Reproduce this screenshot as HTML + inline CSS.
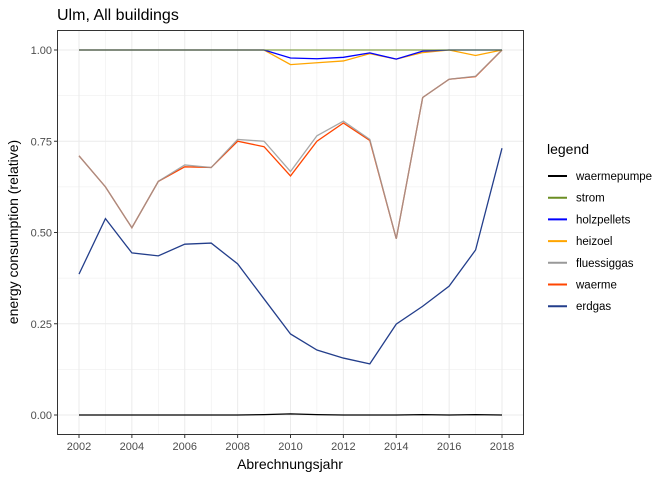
<!DOCTYPE html>
<html><head><meta charset="utf-8"><style>
body{margin:0;background:#fff;font-family:"Liberation Sans",sans-serif;}
</style></head><body>
<svg id="chart" width="672" height="480" xmlns="http://www.w3.org/2000/svg" font-family="Liberation Sans, sans-serif">
<text x="57" y="20" font-size="16" fill="#000">Ulm, All buildings</text>
<g id="grid"></g>
<g id="series"></g>
<rect x="57.5" y="30.5" width="466" height="404" fill="none" stroke="#333" stroke-width="1"/>
<g id="axes"></g>
<text x="290" y="469" font-size="14" text-anchor="middle">Abrechnungsjahr</text>
<text transform="translate(18,232) rotate(-90)" font-size="14" text-anchor="middle">energy consumption (relative)</text>
<g id="legend">
<text x="547" y="154" font-size="14">legend</text>
</g>
</svg>
<script>
const years=[2002,2003,2004,2005,2006,2007,2008,2009,2010,2011,2012,2013,2014,2015,2016,2017,2018];
const xTicks=[2002,2004,2006,2008,2010,2012,2014,2016,2018];
const yTicks=[0,0.25,0.5,0.75,1.0];
const yTickLabels=["0.00","0.25","0.50","0.75","1.00"];
const seriesNames=["waermepumpe","strom","holzpellets","heizoel","fluessiggas","waerme","erdgas"];
const seriesColors=["#000000","#6b8e23","#0000ff","#ffa500","#999999","#ff4500","#233e8b"];
const waermepumpe=[0,0,0,0,0,0,0,0.001,0.003,0.001,0,0,0,0.001,0,0.001,0];
const strom=[1,1,1,1,1,1,1,1,1,1,1,1,1,1,1,1,1];
const holzpellets=[1,1,1,1,1,1,1,1,0.978,0.976,0.98,0.992,0.975,0.997,1,1,1];
const heizoel=[1,1,1,1,1,1,1,1,0.96,0.965,0.97,0.99,0.975,0.993,1,0.985,1];
const fluessiggas=[0.71,0.625,0.513,0.64,0.685,0.678,0.755,0.75,0.667,0.765,0.805,0.755,0.483,0.87,0.92,0.928,1];
const waerme=[0.71,0.625,0.513,0.64,0.68,0.678,0.75,0.735,0.655,0.75,0.8,0.752,0.483,0.87,0.92,0.927,1];
const erdgas=[0.386,0.538,0.444,0.436,0.468,0.471,0.414,0.318,0.222,0.178,0.156,0.14,0.249,0.298,0.353,0.452,0.731];
const NS="http://www.w3.org/2000/svg";
const X=v=>79+(v-2002)*(502-79)/16;
const Y=v=>415-v*365;
function mk(tag,attrs,parent){const e=document.createElementNS(NS,tag);for(const k in attrs)e.setAttribute(k,attrs[k]);parent.appendChild(e);return e;}
const grid=document.getElementById('grid'),axes=document.getElementById('axes'),ser=document.getElementById('series'),leg=document.getElementById('legend');
for(let y=2002;y<=2018;y++){const l=mk('line',{x1:X(y),x2:X(y),y1:31,y2:434,stroke:'#ebebeb','stroke-width':y%2?0.5:1},grid);

}
for(let v=0;v<=1.0001;v+=0.125){const l=mk('line',{x1:58,x2:523,y1:Y(v),y2:Y(v),stroke:'#ebebeb','stroke-width':(Math.round(v*8)%2)?0.5:1},grid);

}
xTicks.forEach(t=>{const l=mk('line',{x1:X(t),x2:X(t),y1:435,y2:438,stroke:'#333'},axes);


const tx=mk('text',{x:X(t),y:450,'font-size':11,'text-anchor':'middle',fill:'#4d4d4d'},axes);tx.textContent=t;

});
yTicks.forEach((t,i)=>{const l=mk('line',{x1:54,x2:57,y1:Y(t),y2:Y(t),stroke:'#333'},axes);


const tx=mk('text',{x:52,y:Y(t)+4,'font-size':11,'text-anchor':'end',fill:'#4d4d4d'},axes);tx.textContent=yTickLabels[i];

});
const data={waermepumpe,strom,holzpellets,heizoel,fluessiggas,waerme,erdgas};
const opac={strom:0.8,fluessiggas:0.85};
for(let i=seriesNames.length-1;i>=0;i--){const n=seriesNames[i];
const p=mk('polyline',{points:data[n].map((v,j)=>X(years[j])+','+Y(v)).join(' '),fill:'none',stroke:seriesColors[i],'stroke-width':1.3,'stroke-opacity':opac[n]||1},ser);

}
seriesNames.forEach((n,i)=>{const y=176+i*21.7;
const l=mk('line',{x1:548,x2:567,y1:y,y2:y,stroke:seriesColors[i],'stroke-width':2},leg);


const t=mk('text',{x:576,y:y+4,'font-size':11.5,fill:'#000'},leg);t.textContent=n;

});
</script>
</body></html>
